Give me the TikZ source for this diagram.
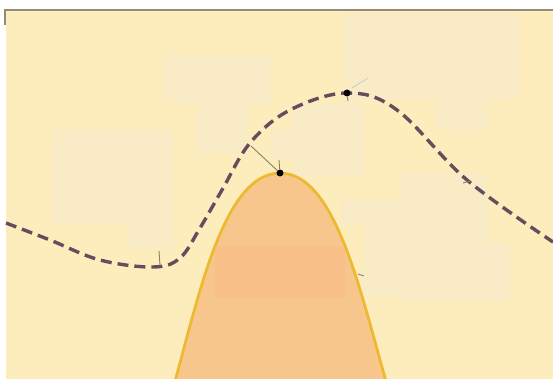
\documentclass[tikz,border=0pt]{standalone}
\usetikzlibrary{calc}
\definecolor{bgyel}{RGB}{253,236,188}
\definecolor{bglight}{RGB}{250,235,199}
\definecolor{framegray}{RGB}{150,138,118}
\definecolor{bellfill}{RGB}{247,198,140}
\definecolor{bellband}{RGB}{248,192,136}
\definecolor{bellline}{RGB}{238,184,48}
\definecolor{curvecol}{RGB}{102,76,92}
\definecolor{leadcol}{RGB}{130,130,105}
\tikzset{
  patch/.style={fill=bglight,draw=none},
  dotmark/.style={circle,fill=black,inner sep=0pt,minimum size=7pt},
  dashcurve/.style={draw=curvecol,line width=3.4pt,dash pattern=on 11pt off 6pt},
  belledge/.style={draw=bellline,line width=2.6pt,fill=bellfill},
  leader/.style={draw=leadcol,line width=0.9pt},
}
\begin{document}
\begin{tikzpicture}[x=1pt,y=-1pt]
\useasboundingbox (0,0) rectangle (553,379);
\fill[white] (0,0) rectangle (553,379);
\fill[bgyel] (6,10) rectangle (553,379);
% faint patches
\fill[patch] (163,55) rectangle (270,103);
\fill[patch] (197,103) rectangle (247,153);
\fill[patch] (345,12) rectangle (518,100);
\fill[patch] (293,103) rectangle (363,177);
\fill[patch] (270,130) rectangle (293,160);
\fill[patch] (53,130) rectangle (173,225);
\fill[patch] (127,225) rectangle (173,248);
\fill[patch] (437,100) rectangle (487,130);
\fill[patch] (400,173) rectangle (487,243);
\fill[patch] (400,243) rectangle (510,300);
\fill[patch] (363,225) rectangle (400,297);
\fill[patch] (340,200) rectangle (400,225);
% frame
\draw[framegray,line width=2.5pt] (4,10) -- (553,10);
\draw[framegray,line width=2pt] (5,10) -- (5,25);
% bell
\begin{scope}
\clip (0,0) rectangle (553,379);
\path[belledge] (175,381) .. controls (200,290) and (225,173) .. (280,173)
  .. controls (335,173) and (360,290) .. (386,381) -- cycle;
\clip (175,381) .. controls (200,290) and (225,173) .. (280,173)
  .. controls (335,173) and (360,290) .. (386,381) -- cycle;
\fill[bellband] (215,247) rectangle (345,297);
\draw[bellline,line width=2.6pt] (175,381) .. controls (200,290) and (225,173) .. (280,173)
  .. controls (335,173) and (360,290) .. (386,381);
\end{scope}
% dashed curve
\path[dashcurve] plot[smooth,tension=0.6] coordinates {(6,223) (50,240) (100,260) (153,267) (180,258) (200,228) (222,190) (250,143) (290,110) (347,93) (397,110) (467,180) (553,242)};
% markers
\node[dotmark] (peak) at (280,173) {};
\node[dotmark] (top) at (347,93) {};
\coordinate (lead1) at (251,146);
\coordinate (tick1) at (279,160);
\coordinate (tick2) at (348,101);
\coordinate (tick3a) at (159,251);
\coordinate (tick3b) at (160,265);
\coordinate (lead2a) at (352,88);
\coordinate (lead2b) at (368,78);
\draw[leader] (lead1) -- (peak);
\draw[leader] (tick1) -- (peak);
\draw[leader] (top) -- (tick2);
\draw[leader] (tick3a) -- (tick3b);
\draw[leader,draw=leadcol!40] (lead2a) -- (lead2b);
\draw[leader] (463,183) -- (470,181);
\draw[leader] (358,274) -- (364,276);
\end{tikzpicture}
\end{document}
